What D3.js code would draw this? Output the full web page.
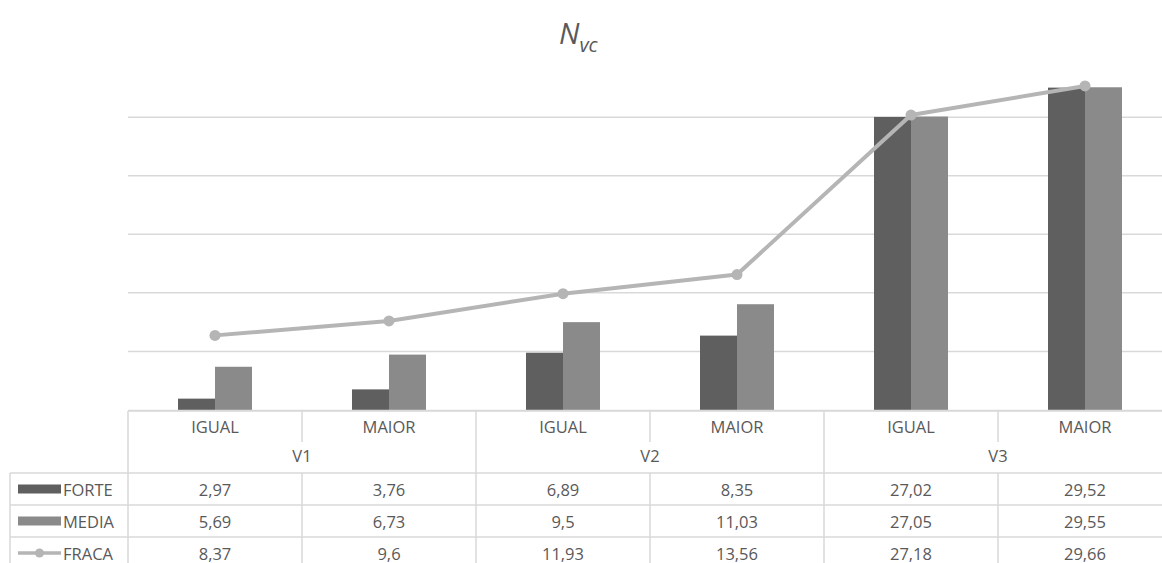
<!DOCTYPE html>
<html>
<head>
<meta charset="utf-8">
<script src="https://cdn.jsdelivr.net/npm/d3@7"></script>
<style>
  html, body { margin: 0; padding: 0; background: #ffffff; }
  svg { display: block; }
  text { font-family: "Open Sans", "Noto Sans", sans-serif; fill: #595959; }
</style>
</head>
<body>
<svg id="chart" width="1162" height="563"></svg>
<script>
// Groups and levels along the category axis
const groups = ["V1", "V2", "V3"];
const levels = ["IGUAL", "MAIOR"];

// Series values, one per (group, level) pair
const forte = [2.97, 3.76, 6.89, 8.35, 27.02, 29.52];
const media = [5.69, 6.73, 9.5, 11.03, 27.05, 29.55];
const fraca = [8.37, 9.6, 11.93, 13.56, 27.18, 29.66];

const seriesNames = ["FORTE", "MEDIA", "FRACA"];

// Value axis
const yDomain = [2, 30];
const yGrid = [7, 12, 17, 22, 27];

const colors = { FORTE: "#5f5f5f", MEDIA: "#8a8a8a", FRACA: "#b5b5b5" };

const svg = d3.select("#chart");

const plot = { left: 128, right: 1172, top: 82, bottom: 410 };

const cats = [];
groups.forEach(g => levels.forEach(l => cats.push(g + "|" + l)));

const x = d3.scaleBand().domain(cats).range([plot.left, plot.right]).padding(0);
const y = d3.scaleLinear().domain(yDomain).range([plot.bottom, plot.top]);
const barW = 37;
const xSub = d3.scaleBand().domain(["FORTE", "MEDIA"]).range([-barW, barW]).padding(0);

// Gridlines
svg.append("g")
  .selectAll("line")
  .data(yGrid)
  .join("line")
  .attr("x1", plot.left).attr("x2", plot.right)
  .attr("y1", d => y(d)).attr("y2", d => y(d))
  .attr("stroke", "#d9d9d9").attr("stroke-width", 1.5);

// Bars
const barSeries = [{ name: "FORTE", values: forte }, { name: "MEDIA", values: media }];
svg.append("g")
  .selectAll("g")
  .data(barSeries)
  .join("g")
  .attr("fill", d => colors[d.name])
  .selectAll("rect")
  .data(d => d.values.map((v, i) => ({ name: d.name, v, cat: cats[i] })))
  .join("rect")
  .attr("x", d => x(d.cat) + x.bandwidth() / 2 + xSub(d.name))
  .attr("width", xSub.bandwidth())
  .attr("y", d => y(d.v))
  .attr("height", d => y(yDomain[0]) - y(d.v));

// Line series
const line = d3.line()
  .x((d, i) => x(cats[i]) + x.bandwidth() / 2)
  .y(d => y(d));
svg.append("path")
  .datum(fraca)
  .attr("d", line)
  .attr("fill", "none")
  .attr("stroke", colors.FRACA)
  .attr("stroke-width", 4)
  .attr("stroke-linejoin", "round");
svg.append("g")
  .selectAll("circle")
  .data(fraca)
  .join("circle")
  .attr("cx", (d, i) => x(cats[i]) + x.bandwidth() / 2)
  .attr("cy", d => y(d))
  .attr("r", 5.5)
  .attr("fill", colors.FRACA);

// Baseline
svg.append("line")
  .attr("x1", plot.left).attr("x2", plot.right)
  .attr("y1", plot.bottom + 0.5).attr("y2", plot.bottom + 0.5)
  .attr("stroke", "#d9d9d9").attr("stroke-width", 1.5);

// Title
const title = svg.append("text")
  .attr("x", 559).attr("y", 44)
  .style("font-style", "italic")
  .style("font-size", "29px");
title.append("tspan").text("N");
title.append("tspan").attr("dy", 8).style("font-size", "20px").text("vc");

// Data table
const tbl = { left: 10, hdr1: 411, hdr2: 442, rowsTop: 473, rowH: 32, bottom: 575 };
const gridColor = "#d9d9d9";
const tg = svg.append("g").attr("stroke", gridColor).attr("stroke-width", 1.5);

// horizontal lines
tg.append("line").attr("x1", plot.left).attr("x2", plot.right).attr("y1", tbl.hdr1).attr("y2", tbl.hdr1);
d3.range(3).forEach(r => {
  const yy = tbl.rowsTop + r * tbl.rowH;
  tg.append("line").attr("x1", tbl.left).attr("x2", plot.right).attr("y1", yy).attr("y2", yy);
});
// left edge of legend column and left edge of category area
tg.append("line").attr("x1", tbl.left).attr("x2", tbl.left).attr("y1", tbl.rowsTop).attr("y2", tbl.bottom);
tg.append("line").attr("x1", plot.left).attr("x2", plot.left).attr("y1", tbl.hdr1).attr("y2", tbl.bottom);
// category boundaries
cats.forEach((c, i) => {
  if (i === 0) return;
  const xx = x(c);
  const groupEdge = i % levels.length === 0;
  tg.append("line").attr("x1", xx).attr("x2", xx)
    .attr("y1", tbl.hdr1).attr("y2", groupEdge ? tbl.bottom : tbl.hdr2);
  if (!groupEdge) {
    tg.append("line").attr("x1", xx).attr("x2", xx).attr("y1", tbl.rowsTop).attr("y2", tbl.bottom);
  }
});

const fs = "16.5px";
// level labels
svg.append("g").selectAll("text")
  .data(cats)
  .join("text")
  .attr("x", d => x(d) + x.bandwidth() / 2)
  .attr("y", 426)
  .attr("text-anchor", "middle").attr("dominant-baseline", "central")
  .style("font-size", fs)
  .text(d => d.split("|")[1]);
// group labels
svg.append("g").selectAll("text")
  .data(groups)
  .join("text")
  .attr("x", g => x(g + "|" + levels[0]) + x.bandwidth() * levels.length / 2)
  .attr("y", 455)
  .attr("text-anchor", "middle").attr("dominant-baseline", "central")
  .style("font-size", fs)
  .text(g => g);

// series rows
const rows = [
  { name: "FORTE", values: forte, kind: "bar" },
  { name: "MEDIA", values: media, kind: "bar" },
  { name: "FRACA", values: fraca, kind: "line" }
];
const fmt = v => String(v).replace(".", ",");
rows.forEach((r, ri) => {
  const cy = tbl.rowsTop + ri * tbl.rowH + tbl.rowH / 2;
  const g = svg.append("g");
  if (r.kind === "bar") {
    g.append("rect").attr("x", 18).attr("y", cy - 4.5).attr("width", 43).attr("height", 9)
      .attr("fill", colors[r.name]);
  } else {
    g.append("line").attr("x1", 18).attr("x2", 61).attr("y1", cy).attr("y2", cy)
      .attr("stroke", colors[r.name]).attr("stroke-width", 3.5);
    g.append("circle").attr("cx", 39.5).attr("cy", cy).attr("r", 4.5).attr("fill", colors[r.name]);
  }
  g.append("text").attr("x", 63).attr("y", cy)
    .attr("dominant-baseline", "central").style("font-size", fs).text(r.name);
  g.selectAll("text.val")
    .data(r.values)
    .join("text")
    .attr("class", "val")
    .attr("x", (d, i) => x(cats[i]) + x.bandwidth() / 2)
    .attr("y", cy)
    .attr("text-anchor", "middle").attr("dominant-baseline", "central")
    .style("font-size", fs)
    .text(fmt);
});
</script>
</body>
</html>
